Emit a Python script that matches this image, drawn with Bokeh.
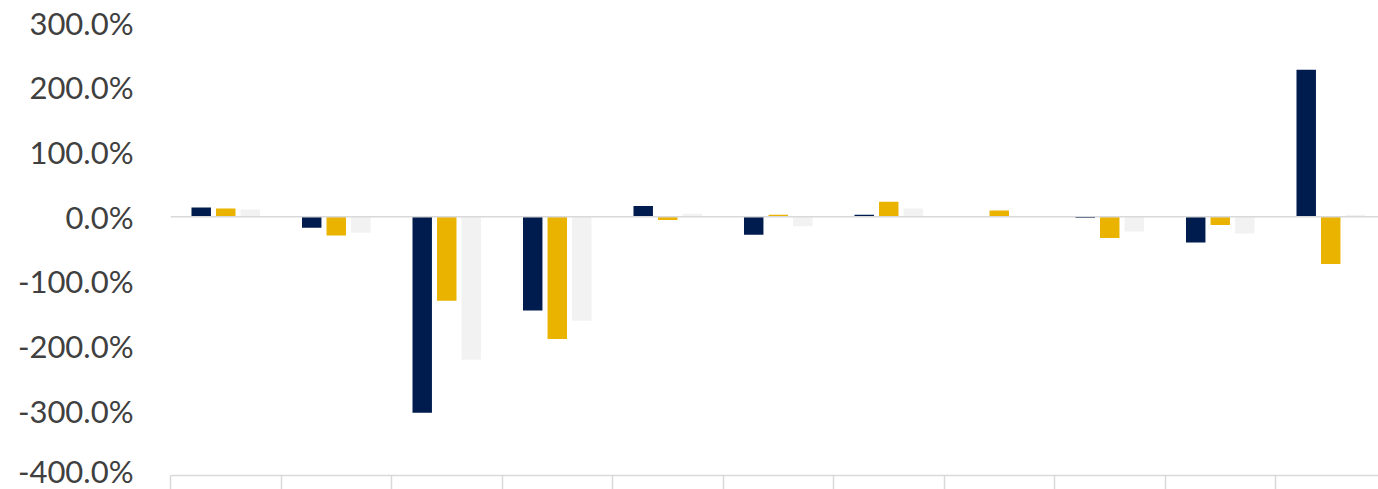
from bokeh.plotting import figure
from bokeh.models import FixedTicker, NumeralTickFormatter, Span, Range1d
from bokeh.embed import file_html
from bokeh.resources import INLINE

categories = ["C1", "C2", "C3", "C4", "C5", "C6", "C7", "C8", "C9", "C10", "C11"]
series_a = [0.14, -0.17, -3.03, -1.45, 0.165, -0.28, 0.03, 0.0, -0.02, -0.40, 2.27]
series_b = [0.125, -0.29, -1.30, -1.89, -0.05, 0.03, 0.23, 0.095, -0.33, -0.13, -0.73]
series_c = [0.11, -0.25, -2.21, -1.61, 0.045, -0.15, 0.125, 0.01, -0.23, -0.26, 0.03]
y_ticks = [-4, -3, -2, -1, 0, 1, 2, 3]

colors = ["#001B4E", "#EAB300", "#F2F2F2"]

W, H = 1378, 489
left, top, bottom = 170, 22, 14
step_px = 110.5
frame_w = W - left
x_end = frame_w / step_px

p = figure(width=W, height=H, output_backend="svg", toolbar_location=None,
           x_range=Range1d(0, x_end), y_range=Range1d(-4, 3),
           min_border_left=left, min_border_right=0, min_border_top=top,
           min_border_bottom=bottom)
p.outline_line_color = None
p.xgrid.visible = False
p.ygrid.visible = False
p.background_fill_color = "white"
p.border_fill_color = "white"

bw = 0.176
off = 0.222
centers = [i + 0.5 for i in range(len(categories))]
for k, (vals, col) in enumerate(zip([series_a, series_b, series_c], colors)):
    xs = [c + (k - 1) * off for c in centers]
    p.vbar(x=xs, top=vals, bottom=0, width=bw, fill_color=col, line_color=None)

p.add_layout(Span(location=0, dimension="width", line_color="#D9D9D9", line_width=1.5))

p.yaxis.ticker = FixedTicker(ticks=y_ticks)
p.yaxis.formatter = NumeralTickFormatter(format="0.0%")
p.yaxis.axis_line_color = None
p.yaxis.major_tick_line_color = None
p.yaxis.minor_tick_line_color = None
p.yaxis.major_tick_in = 0
p.yaxis.major_tick_out = 0
p.yaxis.major_label_standoff = 37
p.yaxis.major_label_text_font = "Lato"
p.yaxis.major_label_text_font_size = "31px"
p.yaxis.major_label_text_color = "#404040"

# category boundaries drawn as minor ticks (no labels shown in the reference)
p.xaxis.ticker = FixedTicker(ticks=[], minor_ticks=list(range(len(categories) + 1)))
p.xaxis.axis_line_color = "#D9D9D9"
p.xaxis.axis_line_width = 1.5
p.xaxis.major_tick_line_color = None
p.xaxis.minor_tick_line_color = "#D9D9D9"
p.xaxis.minor_tick_line_width = 1.5
p.xaxis.minor_tick_in = 0
p.xaxis.minor_tick_out = 14

open("out.html", "w").write(file_html(p, INLINE))
